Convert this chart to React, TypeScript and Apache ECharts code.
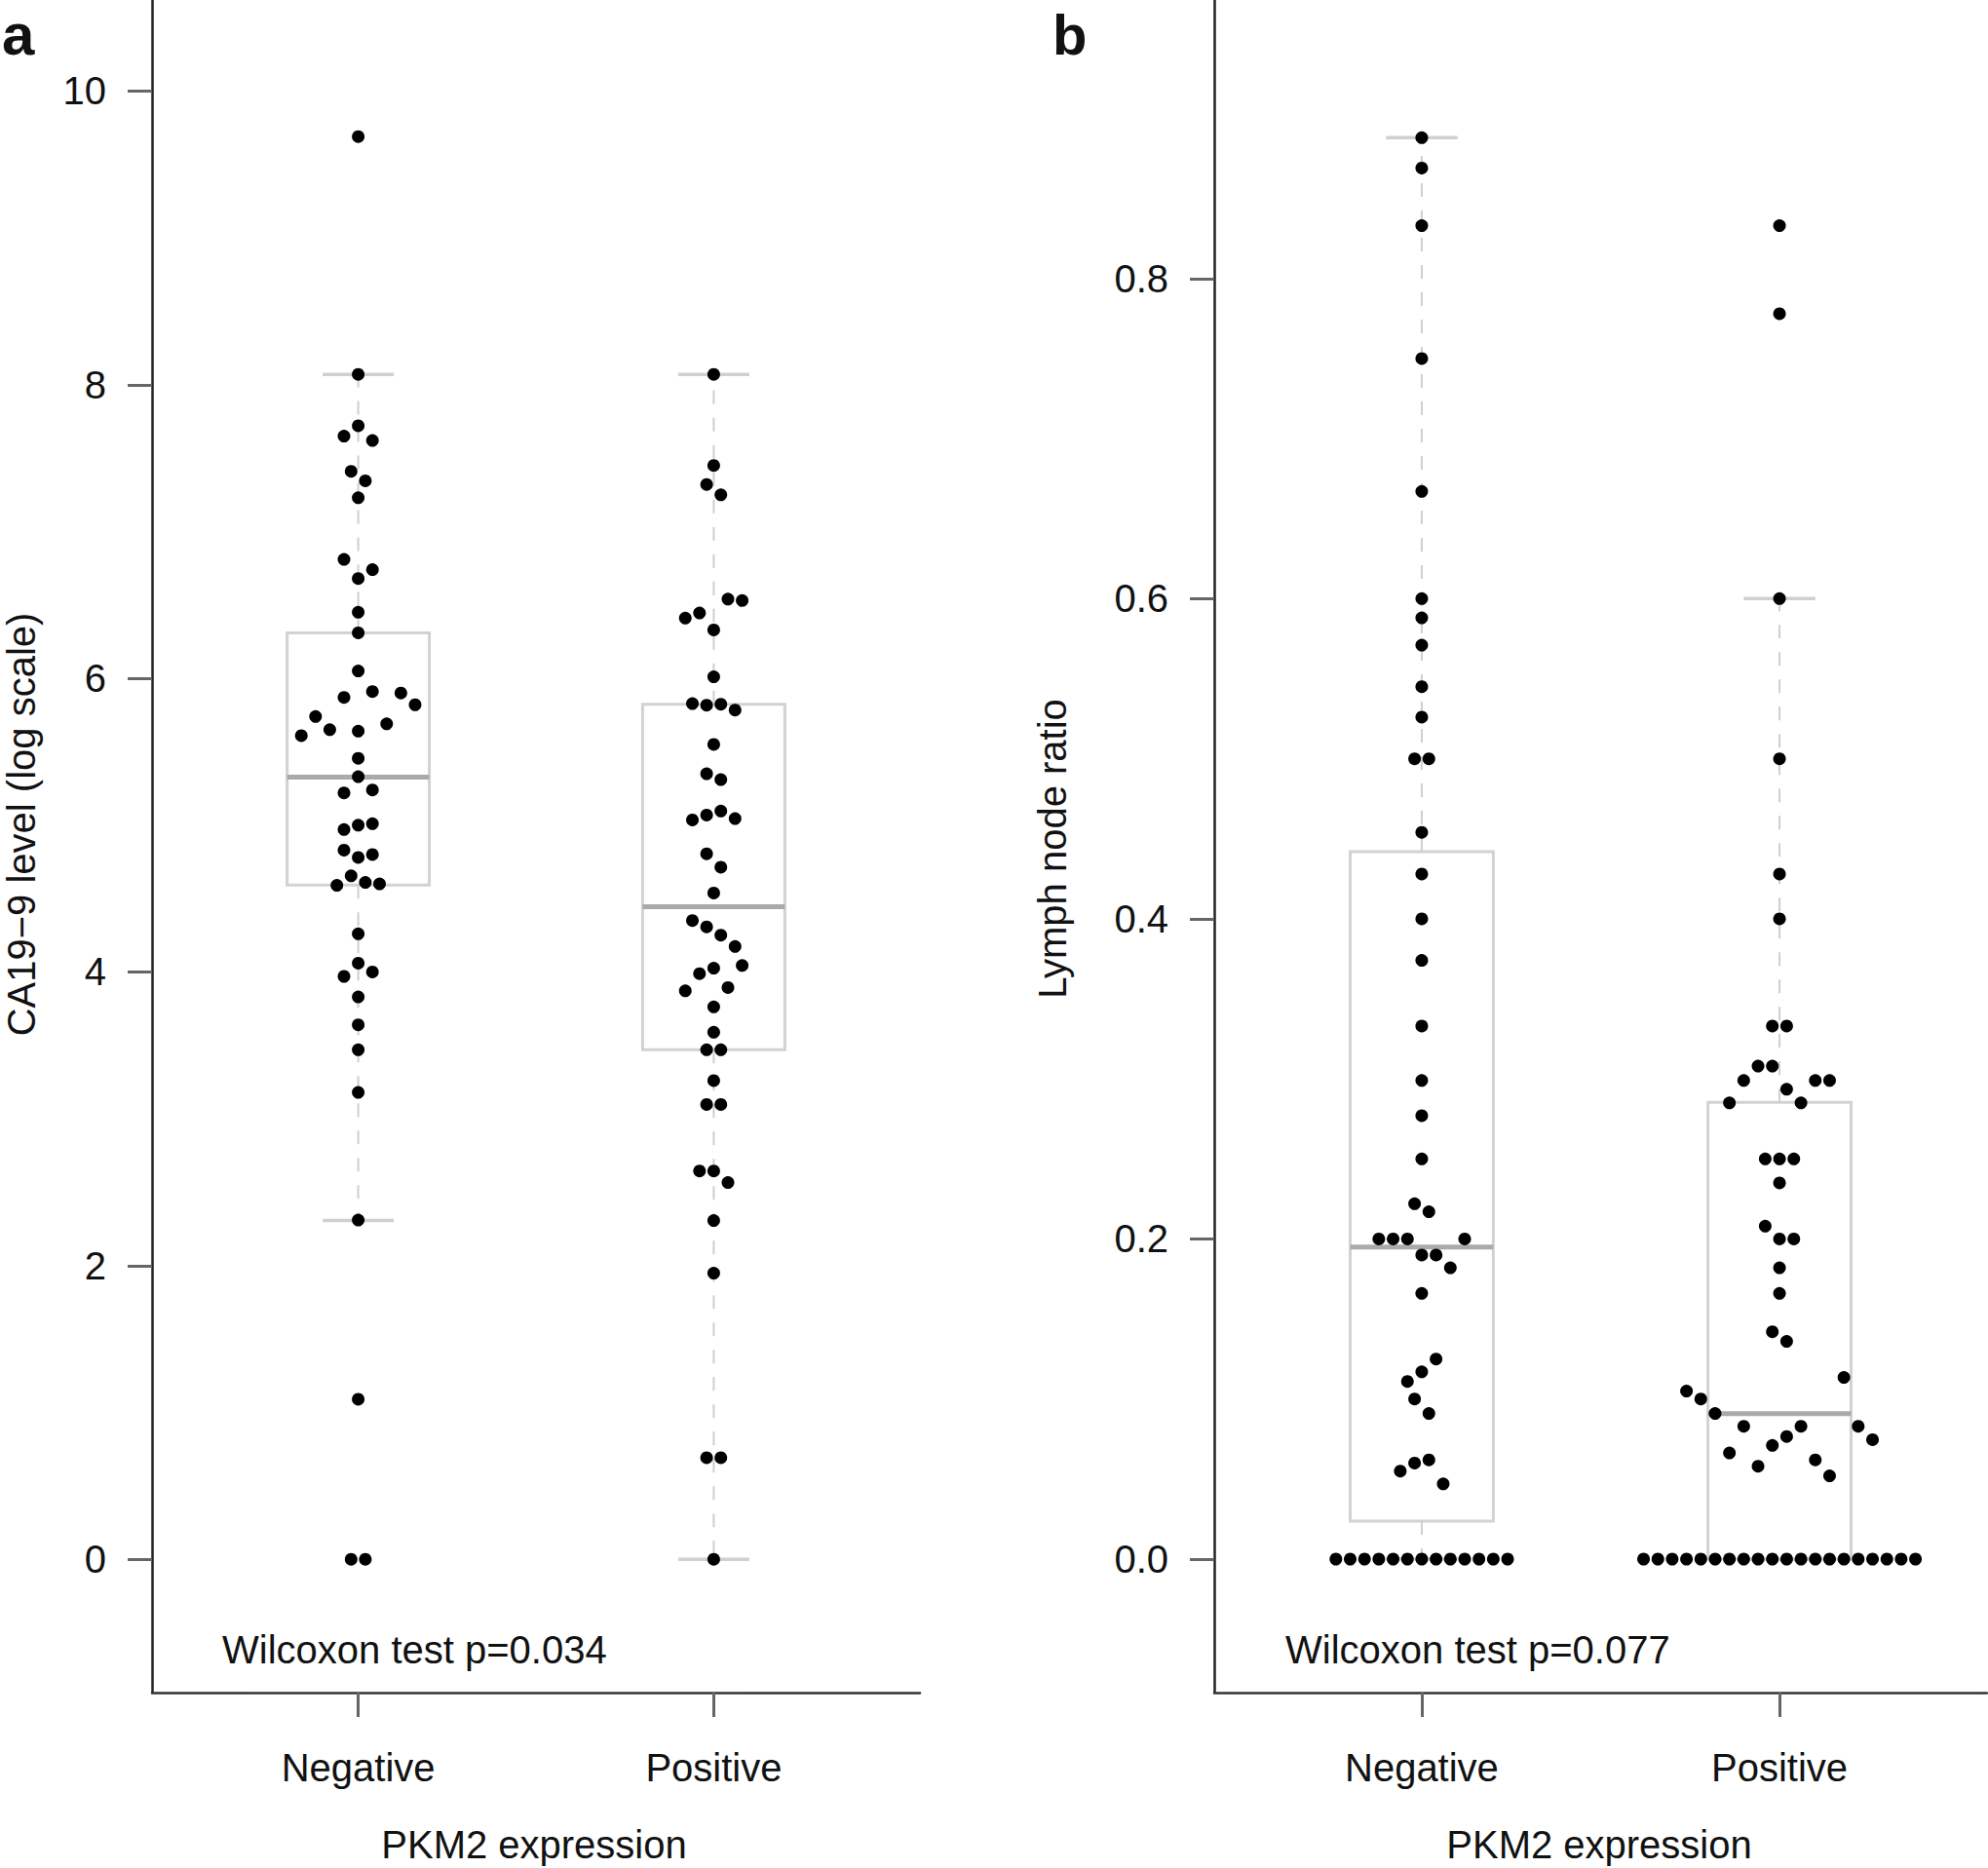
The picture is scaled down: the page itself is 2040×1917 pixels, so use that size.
import React, { useEffect, useRef } from "react";
import * as echarts from "echarts";

// ---------- data ----------
const categories = ["Negative", "Positive"];
const caTicks = [0, 2, 4, 6, 8, 10];
const lnrTicks = [0, 0.2, 0.4, 0.6, 0.8];

// Panel a: CA19-9 level (log scale) values and beeswarm offsets (category units)
const caNegValues = [9.69, 8.07, 7.72, 7.65, 7.62, 7.41, 7.345, 7.23, 6.81, 6.74, 6.68, 6.45, 6.31, 6.05, 5.91, 5.9, 5.87, 5.82, 5.74, 5.69, 5.65, 5.64, 5.61, 5.455, 5.33, 5.24, 5.22, 5.01, 5.0, 4.97, 4.83, 4.8, 4.78, 4.655, 4.61, 4.6, 4.59, 4.26, 4.06, 4.0, 3.97, 3.83, 3.64, 3.47, 3.18, 2.31, 1.09, 0, 0];
const caNegOffsets = [0, 0, 0, -0.04, 0.04, -0.02, 0.02, 0, -0.04, 0.04, 0, 0, 0, 0, 0.04, 0.12, -0.04, 0.16, -0.12, 0.08, -0.08, 0, -0.16, 0, 0, 0.04, -0.04, 0.04, 0, -0.04, -0.04, 0.04, 0, -0.02, 0.02, 0.06, -0.06, 0, 0, 0.04, -0.04, 0, 0, 0, 0, 0, 0, -0.02, 0.02];
const caPosValues = [8.07, 7.45, 7.32, 7.25, 6.54, 6.53, 6.445, 6.41, 6.33, 6.01, 5.828, 5.817, 5.824, 5.784, 5.55, 5.35, 5.31, 5.036, 5.069, 5.096, 5.045, 4.805, 4.714, 4.538, 4.35, 4.307, 4.251, 4.174, 4.044, 4.026, 3.989, 3.872, 3.894, 3.762, 3.59, 3.47, 3.47, 3.26, 3.098, 3.098, 2.645, 2.645, 2.566, 2.307, 1.949, 0.692, 0.692, 0];
const caPosOffsets = [0, 0, -0.02, 0.02, 0.04, 0.08, -0.04, -0.08, 0, 0, -0.06, -0.02, 0.02, 0.06, 0, -0.02, 0.02, -0.06, -0.02, 0.02, 0.06, -0.02, 0.02, 0, -0.06, -0.02, 0.02, 0.06, 0.08, 0, -0.04, -0.08, 0.04, 0, 0, -0.02, 0.02, 0, -0.02, 0.02, -0.04, 0, 0.04, 0, 0, -0.02, 0.02, 0];
// box stats: [low whisker, Q1, median, Q3, high whisker]
const caNegStats = [2.307, 4.593, 5.327, 6.309, 8.07];
const caPosStats = [0, 3.47, 4.445, 5.824, 8.07];

// Panel b: lymph node ratio
const lnrNegValues = [0.888, 0.869, 0.833, 0.75, 0.667, 0.6, 0.588, 0.571, 0.545, 0.526, 0.5, 0.5, 0.454, 0.428, 0.4, 0.374, 0.333, 0.299, 0.277, 0.25, 0.222, 0.217, 0.2, 0.2, 0.2, 0.2, 0.19, 0.19, 0.182, 0.166, 0.125, 0.117, 0.111, 0.1, 0.091, 0.062, 0.06, 0.055, 0.047, 0, 0, 0, 0, 0, 0, 0, 0, 0, 0, 0, 0, 0];
const lnrNegOffsets = [0, 0, 0, 0, 0, 0, 0, 0, 0, 0, -0.02, 0.02, 0, 0, 0, 0, 0, 0, 0, 0, -0.02, 0.02, -0.12, -0.08, -0.04, 0.12, 0, 0.04, 0.08, 0, 0.04, 0, -0.04, -0.02, 0.02, 0.02, -0.02, -0.06, 0.06, -0.24, -0.2, -0.16, -0.12, -0.08, -0.04, 0, 0.04, 0.08, 0.12, 0.16, 0.2, 0.24];
const lnrPosValues = [0.833, 0.778, 0.6, 0.5, 0.428, 0.4, 0.333, 0.333, 0.308, 0.308, 0.299, 0.299, 0.299, 0.2935, 0.285, 0.285, 0.25, 0.25, 0.25, 0.235, 0.208, 0.2, 0.2, 0.182, 0.166, 0.142, 0.136, 0.1135, 0.105, 0.1, 0.091, 0.083, 0.083, 0.083, 0.0766, 0.071, 0.0746, 0.0663, 0.058, 0.062, 0.052, 0, 0, 0, 0, 0, 0, 0, 0, 0, 0, 0, 0, 0, 0, 0, 0, 0, 0, 0, 0];
const lnrPosOffsets = [0, 0, 0, 0, 0, 0, -0.02, 0.02, -0.06, -0.02, -0.1, 0.1, 0.14, 0.02, -0.14, 0.06, -0.04, 0, 0.04, 0, -0.04, 0, 0.04, 0, 0, -0.02, 0.02, 0.18, -0.26, -0.22, -0.18, -0.1, 0.06, 0.22, 0.02, -0.02, 0.26, -0.14, -0.06, 0.1, 0.14, -0.38, -0.34, -0.3, -0.26, -0.22, -0.18, -0.14, -0.1, -0.06, -0.02, 0.02, 0.06, 0.1, 0.14, 0.18, 0.22, 0.26, 0.3, 0.34, 0.38];
const lnrNegStats = [0, 0.0237, 0.195, 0.442, 0.888];
const lnrPosStats = [0, 0, 0.0908, 0.2854, 0.6];

const FONT = "'Liberation Sans', Arial, Helvetica, sans-serif";
const TEXT = "#111111";

function swarm(values: number[], offsets: number[], pos: number) {
  return values.map((v, i) => [pos + offsets[i], v]);
}

function renderBox(params: any, api: any) {
  const x = api.value(0);
  const lo = api.value(1);
  const q1 = api.value(2);
  const med = api.value(3);
  const q3 = api.value(4);
  const hi = api.value(5);
  const hw = 0.2;
  const cw = 0.1;
  const tl = api.coord([x - hw, q3]);
  const br = api.coord([x + hw, q1]);
  const mL = api.coord([x - hw, med]);
  const mR = api.coord([x + hw, med]);
  const pHi = api.coord([x, hi]);
  const pQ3 = api.coord([x, q3]);
  const pQ1 = api.coord([x, q1]);
  const pLo = api.coord([x, lo]);
  const cHiL = api.coord([x - cw, hi]);
  const cHiR = api.coord([x + cw, hi]);
  const cLoL = api.coord([x - cw, lo]);
  const cLoR = api.coord([x + cw, lo]);
  const whisk = { stroke: "#cfcfcf", lineWidth: 2, lineDash: [14, 14], fill: "none" };
  const cap = { stroke: "#d0d0d0", lineWidth: 3.5, fill: "none" };
  return {
    type: "group",
    children: [
      { type: "line", shape: { x1: pQ3[0], y1: pQ3[1], x2: pHi[0], y2: pHi[1] }, style: whisk },
      { type: "line", shape: { x1: pQ1[0], y1: pQ1[1], x2: pLo[0], y2: pLo[1] }, style: whisk },
      { type: "line", shape: { x1: cHiL[0], y1: cHiL[1], x2: cHiR[0], y2: cHiR[1] }, style: cap },
      { type: "line", shape: { x1: cLoL[0], y1: cLoL[1], x2: cLoR[0], y2: cLoR[1] }, style: cap },
      {
        type: "rect",
        shape: { x: tl[0], y: tl[1], width: br[0] - tl[0], height: br[1] - tl[1] },
        style: { fill: "#ffffff", stroke: "#d2d2d2", lineWidth: 3 },
      },
      { type: "line", shape: { x1: mL[0], y1: mL[1], x2: mR[0], y2: mR[1] }, style: { stroke: "#aaaaaa", lineWidth: 5 } },
    ],
  };
}

function xAxisFor(gridIndex: number) {
  return {
    type: "value",
    gridIndex,
    min: 0.42,
    max: 2.58,
    splitLine: { show: false },
    axisLine: { show: true, onZero: false, lineStyle: { color: "#333333", width: 2.5 } },
    axisTick: { show: true, inside: false, length: 25, customValues: [1, 2], lineStyle: { color: "#666666", width: 3 } },
    axisLabel: {
      show: true,
      customValues: [1, 2],
      margin: 57,
      fontSize: 40,
      fontFamily: FONT,
      color: TEXT,
      formatter: (v: number) => categories[Math.round(v) - 1] || "",
    },
  };
}

function yAxisFor(gridIndex: number, min: number, max: number, ticks: number[], digits: number) {
  return {
    type: "value",
    gridIndex,
    min,
    max,
    splitLine: { show: false },
    axisLine: { show: true, onZero: false, lineStyle: { color: "#222222", width: 2.5 } },
    axisTick: { show: true, inside: false, length: 25, customValues: ticks, lineStyle: { color: "#666666", width: 3 } },
    axisLabel: {
      show: true,
      customValues: ticks,
      margin: 47,
      fontSize: 40,
      fontFamily: FONT,
      color: TEXT,
      formatter: (v: number) => v.toFixed(digits),
    },
  };
}

function boxSeries(idx: number, negStats: number[], posStats: number[]) {
  return {
    type: "custom",
    xAxisIndex: idx,
    yAxisIndex: idx,
    clip: false,
    silent: true,
    z: 1,
    renderItem: renderBox,
    encode: { x: 0, y: [1, 2, 3, 4, 5] },
    data: [
      [1, ...negStats],
      [2, ...posStats],
    ],
  };
}

function dotSeries(idx: number, data: number[][]) {
  return {
    type: "scatter",
    xAxisIndex: idx,
    yAxisIndex: idx,
    symbol: "circle",
    symbolSize: 13,
    itemStyle: { color: "#000000", opacity: 1 },
    silent: true,
    z: 5,
    data,
  };
}

function txt(text: string, x: number, y: number, opts: any = {}) {
  return {
    type: "text",
    x,
    y,
    rotation: opts.rotation || 0,
    style: {
      text,
      fontSize: opts.fontSize || 40,
      fontWeight: opts.fontWeight || "normal",
      fontFamily: FONT,
      fill: TEXT,
      align: opts.align || "center",
      verticalAlign: "middle",
    },
  };
}

export default function App() {
  const ref = useRef<HTMLDivElement>(null);
  useEffect(() => {
    if (!ref.current) return;
    const chart = echarts.init(ref.current, null, { renderer: "svg" });
    chart.setOption({
      animation: false,
      backgroundColor: "#ffffff",
      grid: [
        { left: 156, top: 0, width: 788, height: 1737 },
        { left: 1246, top: 0, width: 793, height: 1737 },
      ],
      xAxis: [xAxisFor(0), xAxisFor(1)],
      yAxis: [yAxisFor(0, -0.908, 10.62, caTicks, 0), yAxisFor(1, -0.0834, 0.974, lnrTicks, 1)],
      series: [
        boxSeries(0, caNegStats, caPosStats),
        dotSeries(0, swarm(caNegValues, caNegOffsets, 1)),
        dotSeries(0, swarm(caPosValues, caPosOffsets, 2)),
        boxSeries(1, lnrNegStats, lnrPosStats),
        dotSeries(1, swarm(lnrNegValues, lnrNegOffsets, 1)),
        dotSeries(1, swarm(lnrPosValues, lnrPosOffsets, 2)),
      ],
      graphic: [
        txt("a", 2, 35, { fontSize: 60, fontWeight: "bold", align: "left" }),
        txt("b", 1080, 35, { fontSize: 58, fontWeight: "bold", align: "left" }),
        txt("CA19\u22129 level (log scale)", 22, 846, { rotation: Math.PI / 2 }),
        txt("Lymph node ratio", 1080, 871, { rotation: Math.PI / 2 }),
        txt("PKM2 expression", 548, 1893),
        txt("PKM2 expression", 1641, 1893),
        txt("Wilcoxon test p=0.034", 228, 1693, { align: "left" }),
        txt("Wilcoxon test p=0.077", 1319, 1693, { align: "left" }),
      ],
    });
    return () => chart.dispose();
  }, []);
  return (
    <div
      ref={ref}
      style={{ position: "absolute", left: 0, top: 0, width: 2040, height: 1917, background: "#ffffff" }}
    />
  );
}
